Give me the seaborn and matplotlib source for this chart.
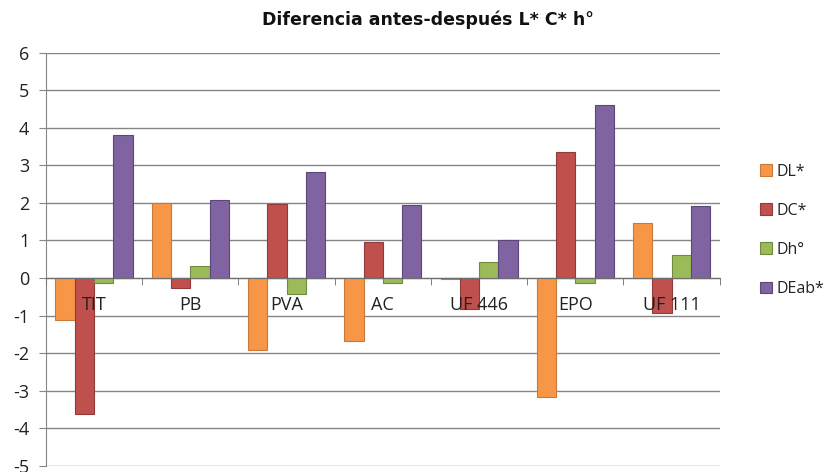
import matplotlib
matplotlib.use("Agg")
import matplotlib.pyplot as plt
import seaborn as sns
import pandas as pd
from matplotlib.ticker import FixedLocator

# Categories and series values
categories = ["TIT", "PB", "PVA", "AC", "UF 446", "EPO", "UF 111"]
series_names = ["DL*", "DC*", "Dh°", "DEab*"]
dl = [-1.13, 2.00, -1.92, -1.68, -0.03, -3.18, 1.46]
dc = [-3.62, -0.27, 1.98, 0.95, -0.83, 3.35, -0.94]
dh = [-0.13, 0.31, -0.43, -0.13, 0.42, -0.13, 0.61]
deab = [3.82, 2.08, 2.82, 1.94, 1.00, 4.62, 1.91]
y_ticks = [-5, -4, -3, -2, -1, 0, 1, 2, 3, 4, 5, 6]

colors = ["#F79646", "#C0504D", "#9BBB59", "#8064A2"]
edges = ["#C8793A", "#8E3B39", "#718A40", "#5C4876"]

rows = []
for name, vals in zip(series_names, [dl, dc, dh, deab]):
    for cat, v in zip(categories, vals):
        rows.append({"cat": cat, "serie": name, "val": v})
df = pd.DataFrame(rows)

sns.set_style("white")
plt.rcParams["font.family"] = ["Open Sans", "DejaVu Sans"]

fig = plt.figure(figsize=(8.34, 4.72), dpi=100)
ax = fig.add_axes([0.055, 0.0135, 0.808, 0.8745])

sns.barplot(data=df, x="cat", y="val", hue="serie", order=categories,
            hue_order=series_names, palette=colors, saturation=1, width=0.8,
            ax=ax, legend=False, zorder=3)

for patch_group, ec in zip(ax.containers, edges):
    for p in patch_group:
        p.set_edgecolor(ec)
        p.set_linewidth(0.8)

ax.set_ylim(-5, 6)
ax.set_xlim(-0.5, len(categories) - 0.5)
ax.set_yticks(y_ticks)
ax.set_yticklabels([str(t) for t in y_ticks], fontsize=13, color="#222222")
ax.yaxis.grid(True, color="#858585", linewidth=1.0, zorder=0)
ax.set_axisbelow(True)
ax.tick_params(axis="y", length=5, color="#858585", pad=7, left=True)

# Category axis crossing at zero, labels drawn over the bars
ax.spines["bottom"].set_position(("data", 0))
ax.spines["bottom"].set_color("#6e6e6e")
ax.spines["bottom"].set_zorder(4)
ax.spines["left"].set_color("#858585")
ax.spines["top"].set_visible(False)
ax.spines["right"].set_visible(False)
ax.xaxis.set_minor_locator(FixedLocator([i - 0.5 for i in range(len(categories) + 1)]))
ax.tick_params(axis="x", which="major", length=0, pad=13, labelsize=13,
               labelcolor="#222222")
ax.tick_params(axis="x", which="minor", length=5, color="#6e6e6e",
               direction="out", bottom=True)
ax.xaxis.set_zorder(5)
ax.set_xlabel("")
ax.set_ylabel("")

fig.text(0.513, 0.958, "Diferencia antes-después L* C* h°", ha="center",
         va="center", fontsize=12.5, fontweight="bold", color="#111111",
         family="DejaVu Sans")

handles = [plt.Rectangle((0, 0), 1, 1, facecolor=c, edgecolor=e, linewidth=0.8)
           for c, e in zip(colors, edges)]
fig.legend(handles, series_names, loc="center left",
           bbox_to_anchor=(0.894, 0.512), frameon=False, fontsize=11.5,
           handlelength=0.75, handleheight=0.75, handletextpad=0.3,
           labelspacing=1.45, labelcolor="#222222")

fig.savefig("out.png", dpi=100)
